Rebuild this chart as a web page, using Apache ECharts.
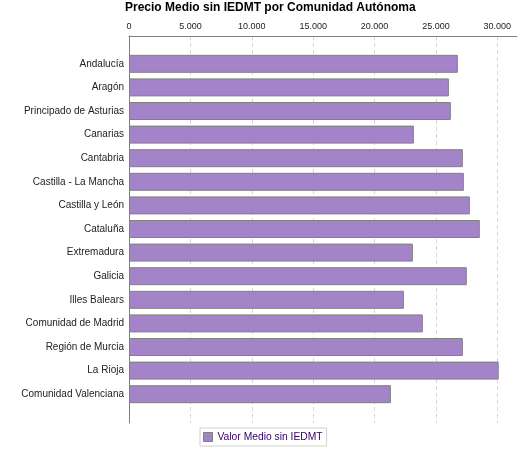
<!DOCTYPE html>
<html lang="es">
<head>
    <meta charset="UTF-8">
    <title>Precio Medio sin IEDMT</title>
    <style>
        html, body { margin: 0; padding: 0; background: #fff; }
        #main { width: 525px; height: 450px; }
    </style>
</head>
<body>
<div id="main"></div>
<script src="https://cdn.jsdelivr.net/npm/echarts@6/dist/echarts.min.js"></script>
<script>
    var comunidades = [
        'Andalucía', 'Aragón', 'Principado de Asturias', 'Canarias', 'Cantabria',
        'Castilla - La Mancha', 'Castilla y León', 'Cataluña', 'Extremadura', 'Galicia',
        'Illes Balears', 'Comunidad de Madrid', 'Región de Murcia', 'La Rioja', 'Comunidad Valenciana'
    ];
    var valorMedio = [
        26780, 26050, 26210, 23200, 27190,
        27270, 27760, 28570, 23120, 27510,
        22390, 23930, 27190, 30110, 21330
    ];
    var ejeMin = 0, ejeMax = 31600, ejePaso = 5000;

    function miles(v) {
        return String(v).replace(/\B(?=(\d{3})+(?!\d))/g, '.');
    }

    var font = 'Liberation Sans, Arial, sans-serif';
    var chart = echarts.init(document.getElementById('main'));

    chart.setOption({
        animation: false,
        title: {
            text: 'Precio Medio sin IEDMT por Comunidad Autónoma',
            left: 125,
            top: 2,
            padding: 0,
            textStyle: {fontSize: 12, fontWeight: 'bold', color: '#000', fontFamily: font}
        },
        legend: {
            data: ['Valor Medio sin IEDMT'],
            left: 200,
            top: 428,
            padding: [4, 4, 4, 3],
            borderColor: '#d0d0d0',
            borderWidth: 1,
            itemWidth: 9,
            itemHeight: 9,
            icon: 'rect',
            itemStyle: {borderColor: '#808080', borderWidth: 1},
            textStyle: {fontSize: 10.3, color: '#330066', fontFamily: font}
        },
        // grid 0: full plot frame (axis at top, grid lines); grid 1: the bars
        grid: [
            {left: 129, right: 8, top: 36, bottom: 27},
            {left: 129, right: 8, top: 52, bottom: 44}
        ],
        xAxis: [
            {
                gridIndex: 0,
                type: 'value',
                position: 'top',
                min: ejeMin,
                max: ejeMax,
                interval: ejePaso,
                axisLine: {show: true, onZero: false, lineStyle: {color: '#808080'}},
                axisTick: {show: false},
                axisLabel: {
                    margin: 5,
                    fontSize: 9,
                    color: '#222',
                    fontFamily: font,
                    showMaxLabel: false,
                    formatter: miles
                },
                splitLine: {
                    show: true,
                    showMaxLine: false,
                    lineStyle: {color: '#d6d6d6', type: [4, 3]}
                }
            },
            {
                gridIndex: 1,
                type: 'value',
                min: ejeMin,
                max: ejeMax,
                show: false
            }
        ],
        yAxis: [
            {
                gridIndex: 0,
                type: 'value',
                min: 0,
                max: 1,
                axisLine: {show: true, onZero: false, lineStyle: {color: '#808080'}},
                axisTick: {show: false},
                axisLabel: {show: false},
                splitLine: {show: false}
            },
            {
                gridIndex: 1,
                type: 'category',
                inverse: true,
                data: comunidades,
                axisLine: {show: false},
                axisTick: {show: false},
                axisLabel: {margin: 5, fontSize: 10, color: '#222', fontFamily: font}
            }
        ],
        series: [
            {
                name: 'Valor Medio sin IEDMT',
                type: 'bar',
                xAxisIndex: 1,
                yAxisIndex: 1,
                barWidth: 18,
                itemStyle: {color: '#a484c8', borderColor: '#808080', borderWidth: 1},
                data: valorMedio
            }
        ]
    });
</script>
</body>
</html>
